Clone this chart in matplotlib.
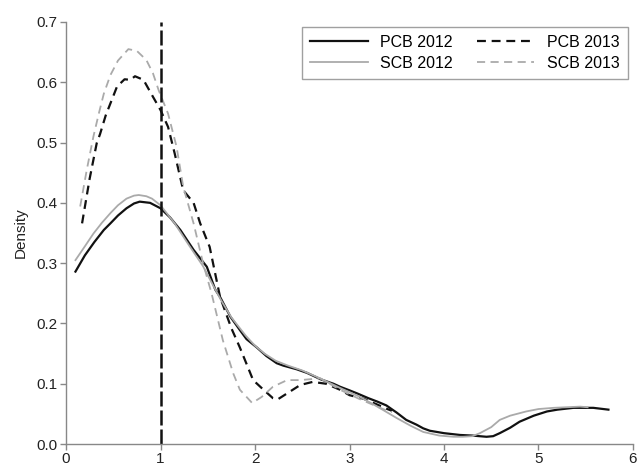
import matplotlib
matplotlib.use("Agg")
import matplotlib.pyplot as plt

plt.rcParams['font.family'] = ['Liberation Sans', 'DejaVu Sans']

# values
pcb12_x = [0.10, 0.20, 0.30, 0.40, 0.47, 0.55, 0.64, 0.72, 0.78, 0.89, 1.00, 1.10, 1.21, 1.35,
           1.49, 1.58, 1.63, 1.74, 1.84, 1.91, 2.02, 2.12, 2.23, 2.30, 2.44, 2.55, 2.70, 2.83,
           2.90, 3.00, 3.08, 3.20, 3.30, 3.39, 3.50, 3.60, 3.71, 3.78, 3.85, 4.00, 4.17, 4.30,
           4.45, 4.52, 4.59, 4.70, 4.80, 4.95, 5.09, 5.20, 5.37, 5.50, 5.58, 5.74]
pcb12_y = [0.286, 0.313, 0.335, 0.355, 0.366, 0.379, 0.391, 0.399, 0.402, 0.400, 0.391, 0.376,
           0.355, 0.322, 0.294, 0.256, 0.244, 0.211, 0.189, 0.174, 0.160, 0.146, 0.134, 0.130,
           0.124, 0.118, 0.107, 0.100, 0.095, 0.089, 0.084, 0.076, 0.070, 0.064, 0.052, 0.040,
           0.032, 0.026, 0.022, 0.018, 0.015, 0.014, 0.012, 0.013, 0.018, 0.027, 0.037, 0.047,
           0.054, 0.057, 0.060, 0.060, 0.060, 0.057]

scb12_x = [0.10, 0.20, 0.29, 0.38, 0.47, 0.55, 0.64, 0.72, 0.77, 0.85, 0.91, 1.00, 1.15, 1.30,
           1.45, 1.55, 1.65, 1.75, 1.90, 2.00, 2.10, 2.22, 2.35, 2.50, 2.70, 2.90, 3.10, 3.25,
           3.36, 3.50, 3.65, 3.78, 3.95, 4.10, 4.20, 4.30, 4.38, 4.50, 4.59, 4.70, 4.87, 5.00,
           5.16, 5.30, 5.44, 5.52]
scb12_y = [0.305, 0.328, 0.349, 0.367, 0.383, 0.396, 0.407, 0.412, 0.413, 0.411, 0.407, 0.396,
           0.366, 0.330, 0.295, 0.265, 0.236, 0.210, 0.180, 0.163, 0.150, 0.138, 0.130, 0.122,
           0.108, 0.093, 0.079, 0.066, 0.056, 0.043, 0.030, 0.020, 0.014, 0.012, 0.012, 0.013,
           0.018, 0.028, 0.040, 0.047, 0.054, 0.058, 0.060, 0.061, 0.062, 0.061]

pcb13_x = [0.17, 0.25, 0.325, 0.36, 0.42, 0.47, 0.54, 0.62, 0.68, 0.73, 0.82, 0.92, 1.00, 1.08,
           1.15, 1.24, 1.35, 1.42, 1.52, 1.63, 1.75, 1.84, 1.98, 2.09, 2.19, 2.24, 2.34, 2.48,
           2.61, 2.75, 2.90, 3.00, 3.15, 3.30, 3.40, 3.45]
pcb13_y = [0.366, 0.440, 0.499, 0.514, 0.545, 0.565, 0.593, 0.605, 0.604, 0.610, 0.604, 0.576,
           0.554, 0.526, 0.482, 0.421, 0.400, 0.366, 0.327, 0.244, 0.192, 0.160, 0.106, 0.090,
           0.076, 0.074, 0.084, 0.098, 0.103, 0.100, 0.090, 0.081, 0.075, 0.065, 0.058, 0.055]

scb13_x = [0.15, 0.22, 0.29, 0.35, 0.40, 0.47, 0.55, 0.66, 0.75, 0.85, 0.92, 0.98, 1.08, 1.17,
           1.24, 1.35, 1.45, 1.54, 1.66, 1.77, 1.84, 1.97, 2.07, 2.19, 2.34, 2.48, 2.69, 2.90,
           3.10, 3.25, 3.40, 3.45]
scb13_y = [0.394, 0.455, 0.510, 0.550, 0.581, 0.612, 0.636, 0.655, 0.652, 0.637, 0.615, 0.587,
           0.548, 0.493, 0.427, 0.366, 0.300, 0.250, 0.172, 0.117, 0.090, 0.068, 0.078, 0.095,
           0.106, 0.106, 0.109, 0.090, 0.075, 0.065, 0.055, 0.053]

cutoff = 1

grey = '#aaaaaa'
axis_grey = '#888888'

fig = plt.figure(figsize=(6.39, 4.70), dpi=100)
ax = fig.add_axes([0.1033, 0.0553, 0.8873, 0.8979])

ax.plot(pcb12_x, pcb12_y, color='#111111', lw=1.6, label='PCB 2012')
ax.plot(pcb13_x, pcb13_y, color='#111111', lw=1.6, ls=(0, (4, 2.6)), label='PCB 2013')
ax.plot(scb12_x, scb12_y, color=grey, lw=1.3, label='SCB 2012')
ax.plot(scb13_x, scb13_y, color=grey, lw=1.3, ls=(0, (4.5, 3)), label='SCB 2013')
ax.axvline(cutoff, color='#111111', lw=1.8, ls=(0, (6, 1.6)))

ax.set_xlim(0, 6)
ax.set_ylim(0, 0.7)
ax.set_xticks(range(0, 7))
ax.set_yticks([0.0, 0.1, 0.2, 0.3, 0.4, 0.5, 0.6, 0.7])
ax.set_yticklabels(['0.0', '0.1', '0.2', '0.3', '0.4', '0.5', '0.6', '0.7'])
ax.set_ylabel('Density', fontsize=11, color='#222222', labelpad=6)

for s in ['top', 'right']:
    ax.spines[s].set_visible(False)
for s in ['left', 'bottom']:
    ax.spines[s].set_color(axis_grey)
    ax.spines[s].set_linewidth(1.0)
ax.tick_params(direction='out', length=4, width=1.0, color=axis_grey,
               labelsize=11, labelcolor='#222222', pad=2)

# legend in two columns: 2012 left, 2013 right
h, l = ax.get_legend_handles_labels()
order = [0, 2, 1, 3]
leg = ax.legend([h[i] for i in order], [l[i] for i in order], ncol=2,
                loc='upper right', bbox_to_anchor=(0.991, 0.988), borderaxespad=0,
                fontsize=11.5, frameon=True, fancybox=False, handlelength=3.6,
                columnspacing=1.5, labelspacing=0.36, borderpad=0.5, handletextpad=0.8)
leg.get_frame().set_edgecolor(axis_grey)
leg.get_frame().set_linewidth(1.0)

fig.savefig('out.png', dpi=100)
